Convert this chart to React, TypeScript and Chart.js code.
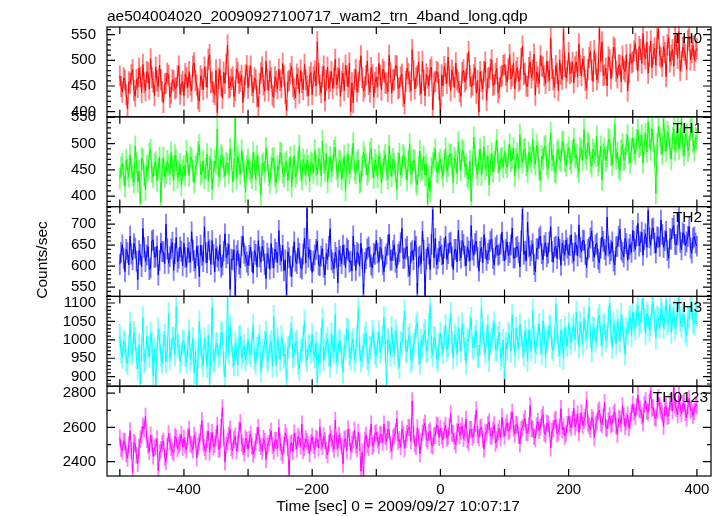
import { useEffect, useRef } from "react";
import { Chart, registerables } from "chart.js";

Chart.register(...registerables);

// Time bins (seconds from 2009/09/27 10:07:17)
const binStart = -500;
const binWidth = 2;

// Count rates (counts/sec)
const th0 = [
  470,449, 438,466, 461,433, 405,458, 455,472, 482,441, 430,463, 447,485, 468,437, 492,456, 441,478, 476,444, 503,467, 458,431, 487,460, 449,491, 462,439, 418,454, 455,475, 471,428, 436,462, 460,445, 447,470, 489,434, 452,459,
  431,474, 466,447, 478,452, 440,489, 495,461, 452,425, 420,470, 463,443, 487,468, 447,502, 511,456, 458,438, 433,481, 398,465, 482,450, 426,477, 455,492, 530,446, 449,463, 468,429, 441,484, 476,455, 459,471, 418,448, 472,490,
  446,470, 489,451, 437,466, 462,429, 410,455, 475,487, 452,440, 498,463, 441,479, 466,432, 428,468, 459,445, 483,461, 447,494, 470,436, 402,458, 461,474, 488,449, 444,427, 473,465, 436,481, 457,443, 492,462, 450,431, 468,476,
  433,468, 479,450, 536,474, 452,437, 468,489, 421,461, 487,445, 459,478, 445,466, 502,452, 466,484, 430,459, 475,441, 491,470, 448,495, 400,456, 417,463, 482,439, 457,480, 509,467, 440,448, 471,499, 453,438, 486,472, 428,457,
  467,448, 494,471, 442,483, 478,456, 455,439, 510,476, 436,462, 462,490, 489,445, 447,468, 473,430, 415,459, 485,474, 458,441, 521,480, 444,466, 470,497, 452,435, 498,461, 431,473, 466,450, 482,487, 404,456, 459,478, 476,443,
  396,472, 450,488, 474,455, 506,469, 441,481, 468,447, 495,462, 457,439, 430,476, 481,458, 463,493, 517,470, 448,452, 472,486, 436,461, 399,478, 459,444, 478,497, 422,465, 467,483, 501,451, 453,474, 484,437, 446,468, 470,490,
  492,471, 458,483, 511,464, 470,495, 444,478, 486,459, 463,504, 528,472, 475,450, 449,486, 497,466, 481,512, 432,477, 468,455, 509,489, 487,470, 455,498, 478,461, 543,484, 462,447, 490,475, 441,501, 473,463, 560,488, 466,479,
  515,474, 478,496, 456,487, 497,468, 532,490, 470,503, 488,461, 445,482, 506,517, 481,459, 519,493, 462,476, 562,498, 536,470, 472,485, 450,507, 501,464, 487,526, 523,479, 466,491, 491,458, 509,483, 478,511, 440,476, 512,495,
  497,518, 533,502, 480,527, 521,494, 552,511, 503,536, 475,508, 538,486, 512,524, 490,543, 561,509, 505,488, 527,515, 468,530, 544,497, 510,521, 489,548, 531,504, 556,480, 498,526, 520,512, 482,539, 547,501, 515,529, 500,517,
  523,
];
const th1 = [
  433,455, 462,441, 418,469, 451,437, 478,452, 440,426, 495,463, 427,448, 386,472, 470,439, 412,458, 448,481, 489,445, 436,460, 465,429, 452,474, 388,451, 474,436, 444,467, 459,442, 483,456, 430,478, 468,434, 447,461, 421,449,
  457,439, 486,462, 439,475, 471,448, 425,456, 462,484, 498,441, 445,467, 433,452, 480,429, 456,471, 413,446, 467,460, 528,437, 449,478, 474,455, 438,464, 461,443, 490,470, 427,451, 549,433, 476,462, 442,487, 465,447, 408,458,
  470,452, 446,433, 484,461, 431,476, 458,440, 402,459, 463,447, 492,468, 440,425, 455,471, 473,438, 425,457, 449,483, 481,444, 437,462, 466,430, 451,475, 418,453, 477,436, 444,466, 496,449, 432,470, 459,441, 469,458, 428,464,
  462,444, 487,459, 441,472, 470,438, 505,463, 448,481, 426,455, 475,446, 458,486, 493,451, 437,468, 466,432, 452,477, 411,460, 480,443, 456,471, 501,449, 443,465, 469,425, 428,457, 484,474, 461,440, 447,482, 490,454, 434,469,
  459,436, 477,462, 425,451, 468,479, 449,433, 496,458, 438,471, 462,445, 413,463, 481,440, 455,478, 472,452, 430,466, 499,441, 446,469, 467,427, 421,456, 486,448, 452,475, 440,461, 385,437, 409,454, 463,472, 489,446, 444,463,
  470,452, 438,466, 491,447, 457,480, 479,461, 426,473, 466,443, 503,470, 449,488, 485,456, 461,437, 432,467, 390,458, 512,478, 453,441, 468,490, 440,462, 494,451, 458,476, 421,459, 482,446, 465,484, 507,463, 447,471, 473,455,
  486,462, 455,478, 499,466, 472,491, 438,470, 481,453, 517,475, 463,488, 490,459, 446,483, 475,464, 508,473, 460,497, 484,451, 429,476, 470,493, 496,461, 452,481, 521,468, 478,447, 444,485, 489,470, 467,504, 502,466, 458,480,
  493,470, 462,486, 510,473, 479,455, 445,492, 488,469, 527,481, 470,502, 497,464, 456,489, 482,476, 514,458, 466,495, 431,480, 491,467, 475,509, 505,478, 459,493, 536,471, 483,454, 449,487, 499,468, 472,498, 516,481, 463,490,
  511,489, 480,507, 526,493, 497,516, 463,501, 519,484, 541,510, 488,528, 505,477, 405,498, 532,514, 499,480, 547,506, 485,523, 514,492, 470,511, 528,487, 503,530, 490,508, 548,495, 478,519, 517,486, 495,527, 534,503, 486,512,
  508,
];
const th2 = [
  604,633, 651,618, 587,640, 632,603, 672,629, 615,654, 643,612, 568,637, 628,599, 690,645, 611,627, 647,592, 596,660, 663,621, 622,648, 579,614, 655,635, 634,606, 700,641, 607,623, 641,657, 590,630, 668,610, 619,646, 636,601,
  655,621, 598,644, 633,609, 682,638, 613,595, 647,625, 575,650, 626,611, 694,632, 608,659, 639,604, 661,628, 586,642, 622,613, 651,597, 603,636, 677,620, 630,652, 545,617, 615,639, 530,626, 637,605, 596,648, 671,631, 624,610,
  602,626, 645,611, 583,637, 628,598, 661,622, 610,647, 637,604, 570,631, 619,593, 654,620, 596,641, 633,609, 685,627, 612,650, 589,615, 532,634, 620,600, 575,623, 658,612, 606,643, 631,596, 593,629, 667,607, 738,621, 640,614,
  585,612, 627,640, 660,603, 601,624, 642,597, 579,630, 616,647, 689,615, 608,594, 633,621, 560,638, 624,606, 650,627, 597,643, 638,610, 612,589, 672,626, 590,633, 629,600, 655,618, 534,609, 618,641, 646,622, 603,596, 631,628,
  662,631, 610,645, 640,603, 587,622, 629,650, 676,614, 615,637, 651,609, 596,628, 634,656, 690,618, 620,641, 647,599, 578,632, 637,615, 661,647, 535,621, 625,606, 683,638, 530,617, 645,629, 592,652, 735,620, 666,604, 618,635,
  648,627, 605,643, 671,616, 630,655, 657,622, 592,640, 640,610, 686,637, 619,661, 652,624, 601,646, 636,613, 697,639, 626,654, 660,621, 588,635, 645,608, 675,642, 614,630, 639,659, 665,618, 603,644, 650,626, 629,652, 681,637,
  612,640, 658,625, 633,651, 691,619, 620,644, 647,632, 598,660, 736,628, 636,613, 705,646, 625,637, 653,604, 587,642, 641,667, 672,630, 615,649, 656,622, 631,658, 694,635, 609,645, 648,618, 670,640, 602,655, 637,626, 662,643,
  627,649, 675,631, 612,656, 650,624, 698,645, 634,662, 661,628, 597,640, 645,667, 684,636, 621,651, 655,617, 608,643, 670,659, 640,626, 717,648, 629,637, 658,612, 603,646, 647,671, 688,639, 633,622, 666,654, 614,641, 652,633,
  685,659, 640,672, 702,648, 658,681, 626,663, 677,645, 733,668, 650,689, 691,655, 632,670, 668,647, 710,676, 645,661, 683,637, 619,666, 664,690, 697,652, 652,674, 725,657, 639,680, 676,649, 658,671, 694,643, 631,667, 670,655,
  648,
];
const th3 = [
  1012,968, 952,997, 991,944, 935,983, 1045,961, 968,1020, 1003,950, 921,986, 880,973, 1060,939, 947,1008, 979,955, 1018,992, 903,975, 878,964, 1030,999, 958,937, 993,1014, 940,970, 1071,948, 972,1003, 1006,959, 1090,982, 985,941, 960,995,
  996,958, 938,981, 1025,947, 963,1004, 910,969, 877,952, 1049,985, 951,929, 1003,976, 927,1012, 882,960, 1088,943, 944,990, 989,955, 961,1021, 1016,937, 899,978, 1117,964, 1037,996, 956,931, 992,973, 932,1007, 1010,950, 967,984, 945,962,
  1002,965, 958,991, 1040,948, 936,977, 985,1010, 915,956, 972,994, 1021,940, 949,983, 995,928, 1064,971, 930,1003, 978,946, 1008,987, 954,962, 889,979, 981,1015, 1033,952, 962,990, 997,935, 920,974, 969,1009, 1051,957, 944,982, 986,966,
  1015,970, 952,993, 884,961, 937,1002, 1056,945, 973,988, 1004,957, 928,1016, 981,966, 1069,939, 959,998, 996,953, 913,984, 975,1030, 1027,962, 948,991, 1002,944, 966,1011, 1085,972, 942,956, 987,1006, 1019,949, 934,980, 979,1023, 1008,964,
  955,991, 1022,967, 979,1009, 1061,974, 879,1001, 995,958, 1034,983, 963,1025, 1008,950, 926,994, 990,1017, 1079,970, 968,1004, 1014,942, 951,987, 998,1036, 1047,961, 935,999, 983,1013, 1026,968, 972,1041, 1094,980, 958,1006, 1003,952, 944,990,
  1018,985, 966,1007, 1040,972, 983,1029, 1072,994, 951,1013, 1005,960, 1033,998, 969,1044, 1011,976, 937,1002, 996,1035, 1058,981, 977,1009, 1024,956, 955,993, 1089,1017, 988,964, 1012,1038, 943,990, 1001,1021, 1046,973, 972,1006, 1020,948, 960,999,
  880,992, 974,1018, 1011,969, 1067,1003, 958,1031, 1002,977, 1041,1012, 981,959, 1023,1000, 943,1027, 997,971, 1080,1008, 966,990, 1014,1043, 989,962, 1052,1015, 954,996, 1009,1037, 1035,979, 972,1004, 1096,1020, 985,958, 1026,997, 949,1033, 1006,984,
  1045,1006, 992,1029, 1038,1001, 1075,1018, 981,1047, 1020,988, 1058,1024, 1003,1040, 1089,1009, 968,1033, 1031,995, 1011,1056, 1067,1013, 985,1037, 1043,998, 1008,1062, 1100,1021, 979,1044, 1024,990, 1052,1027, 996,1069, 1035,1005, 961,1030, 1017,1049, 1063,1012,
  1076,1045, 1030,1067, 1092,1038, 1048,1081, 1113,1055, 1017,1072, 1064,1026, 1041,1089, 1099,1050, 1005,1063, 1058,1034, 1085,1071, 1033,1059, 1108,1042, 1052,1096, 1020,1057, 1079,1031, 1046,1084, 1115,1053, 1037,1066, 1070,1023, 1012,1060, 1061,1088, 1094,1047, 1043,1074,
  1068,
];
const th0123 = [
  2540,2478, 2462,2521, 2515,2447, 2420,2498, 2580,2466, 2335,2512, 2503,2437, 2390,2485, 2530,2556, 2608,2592, 2665,2530, 2496,2459, 2555,2507, 2431,2480, 2488,2533, 2345,2451, 2470,2505, 2519,2428, 2402,2490, 2563,2517, 2484,2462, 2450,2548, 2537,2476, 2498,2511, 2560,2483,
  2536,2494, 2468,2545, 2589,2503, 2497,2468, 2552,2526, 2421,2491, 2515,2567, 2640,2512, 2483,2458, 2530,2579, 2455,2520, 2571,2486, 2502,2540, 2612,2473, 2476,2601, 2715,2538, 2398,2496, 2520,2555, 2590,2481, 2464,2527, 2549,2462, 2505,2583, 2628,2509, 2489,2451, 2537,2524,
  2474,2529, 2560,2492, 2443,2470, 2516,2553, 2600,2508, 2488,2461, 2535,2517, 2412,2489, 2507,2542, 2578,2496, 2461,2525, 2523,2478, 2599,2514, 2455,2438, 2497,2568, 2546,2482, 2325,2503, 2510,2459, 2567,2521, 2472,2547, 2531,2490, 2620,2466, 2485,2533, 2518,2497, 2446,2510,
  2548,2495, 2469,2537, 2530,2480, 2601,2515, 2487,2549, 2522,2466, 2440,2508, 2563,2532, 2505,2471, 2642,2519, 2478,2556, 2517,2490, 2385,2527, 2536,2462, 2590,2543, 2461,2501, 2528,2584, 2499,2476, 2573,2512, 2344,2458, 2320,2525, 2556,2497, 2483,2540, 2620,2488, 2504,2563,
  2572,2526, 2495,2561, 2556,2513, 2620,2547, 2517,2590, 2583,2502, 2462,2538, 2548,2575, 2651,2519, 2529,2486, 2590,2557, 2476,2531, 2564,2599, 2600,2522, 2755,2560, 2503,2489, 2598,2544, 2445,2516, 2567,2602, 2625,2535, 2521,2570, 2580,2498, 2490,2551, 2553,2614, 2609,2541,
  2595,2548, 2526,2583, 2612,2537, 2548,2604, 2680,2566, 2563,2519, 2497,2575, 2621,2552, 2578,2609, 2535,2570, 2649,2528, 2510,2589, 2587,2543, 2556,2622, 2703,2558, 2540,2596, 2602,2531, 2474,2567, 2571,2615, 2633,2550, 2549,2584, 2616,2507, 2527,2573, 2594,2538, 2660,2591,
  2548,2603, 2627,2576, 2584,2641, 2690,2597, 2561,2618, 2615,2553, 2503,2586, 2598,2632, 2652,2570, 2570,2611, 2728,2594, 2589,2547, 2536,2609, 2634,2582, 2601,2656, 2675,2568, 2557,2625, 2620,2590, 2480,2577, 2593,2638, 2647,2561, 2572,2604, 2710,2585, 2604,2549, 2566,2617,
  2664,2619, 2598,2646, 2712,2603, 2627,2680, 2571,2637, 2685,2611, 2640,2659, 2762,2625, 2609,2588, 2658,2643, 2540,2615, 2633,2692, 2701,2628, 2616,2661, 2745,2599, 2592,2640, 2668,2617, 2622,2677, 2690,2608, 2560,2653, 2649,2621, 2727,2666, 2605,2634, 2672,2597, 2638,2685,
  2735,2690, 2664,2721, 2790,2706, 2702,2668, 2628,2733, 2756,2695, 2689,2747, 2818,2712, 2716,2659, 2651,2704, 2773,2726, 2697,2681, 2605,2718, 2723,2662, 2670,2752, 2748,2697, 2834,2730, 2711,2675, 2786,2714, 2680,2739, 2742,2688, 2655,2724, 2768,2700, 2709,2671, 2692,2735,
  2725,
];

const bandNames = ["TH0", "TH1", "TH2", "TH3", "TH0123"];
const bandSeries = [th0, th1, th2, th3, th0123];
const bandErrors = [20, 20, 24, 30, 48];
const bandMin = [390, 380, 528, 874, 2316];
const bandMax = [565, 551, 742, 1118, 2841];
const bandLabelStep = [50, 50, 50, 50, 200];
const bandMinorStep = [10, 10, 10, 10, 100];
const lineColors = ["#ff0000", "#00ff00", "#0000ff", "#00ffff", "#ff00ff"];
const errColors = [
  "rgba(255,0,0,0.5)",
  "rgba(0,255,0,0.5)",
  "rgba(0,0,255,0.5)",
  "rgba(0,255,255,0.5)",
  "rgba(255,0,255,0.5)",
];

const plotTitle = "ae504004020_20090927100717_wam2_trn_4band_long.qdp";
const xTitle = "Time [sec] 0 = 2009/09/27 10:07:17";
const yTitle = "Counts/sec";
const xMin = -520;
const xMax = 422;
const xTickFirst = -500;
const xTickLast = 400;
const xTickStep = 100;
const xLabelStep = 200;

const FONT_FAMILY = '"Liberation Sans", Arial, Helvetica, sans-serif';

const framePlugin = {
  id: "qdpFrame",
  beforeDatasetDraw(chart: any, args: any) {
    const ys = chart.scales[args.meta.yAxisID];
    const ca = chart.chartArea;
    const ctx = chart.ctx;
    ctx.save();
    ctx.beginPath();
    ctx.rect(ca.left, ys.top, ca.right - ca.left, ys.bottom - ys.top);
    ctx.clip();
  },
  afterDatasetDraw(chart: any) {
    chart.ctx.restore();
  },
  afterDraw(chart: any) {
    const ctx = chart.ctx;
    const ca = chart.chartArea;
    const xs = chart.scales.x;
    ctx.save();
    ctx.strokeStyle = "#000";
    ctx.lineWidth = 1.2;
    bandNames.forEach((name, b) => {
      const s = chart.scales["y" + b];
      ctx.strokeRect(ca.left, s.top, ca.right - ca.left, s.bottom - s.top);
      ctx.beginPath();
      const minor = bandMinorStep[b];
      const major = bandLabelStep[b];
      for (let v = Math.ceil(bandMin[b] / minor) * minor; v <= bandMax[b]; v += minor) {
        const py = s.getPixelForValue(v);
        const len = v % major === 0 ? 8 : 4;
        ctx.moveTo(ca.left, py);
        ctx.lineTo(ca.left + len, py);
        ctx.moveTo(ca.right, py);
        ctx.lineTo(ca.right - len, py);
      }
      for (let t = xTickFirst; t <= xTickLast; t += xTickStep) {
        const px = xs.getPixelForValue(t);
        ctx.moveTo(px, s.top);
        ctx.lineTo(px, s.top + 7);
        ctx.moveTo(px, s.bottom);
        ctx.lineTo(px, s.bottom - 7);
      }
      ctx.stroke();
      ctx.fillStyle = "#000";
      ctx.font = "15.5px " + FONT_FAMILY;
      ctx.textAlign = "right";
      ctx.textBaseline = "alphabetic";
      const lx = b === bandNames.length - 1 ? 708 : 702;
      ctx.fillText(name, lx, s.top + 15.8);
    });
    ctx.fillStyle = "#000";
    ctx.font = "15.5px " + FONT_FAMILY;
    ctx.textAlign = "left";
    ctx.textBaseline = "alphabetic";
    ctx.fillText(plotTitle, 107, 20.5);
    ctx.textAlign = "center";
    ctx.fillText(xTitle, 398, 511);
    ctx.save();
    ctx.translate(46.5, 260);
    ctx.rotate(-Math.PI / 2);
    ctx.textBaseline = "alphabetic";
    ctx.fillText(yTitle, 0, 0);
    ctx.restore();
    ctx.restore();
  },
};

export default function App() {
  const ref = useRef<HTMLCanvasElement | null>(null);
  useEffect(() => {
    if (!ref.current) return;
    const datasets: any[] = [];
    bandSeries.forEach((series, b) => {
      const times = series.map((_, i) => binStart + i * binWidth);
      datasets.push({
        type: "line",
        data: series.map((v, i) => ({ x: times[i], y: v })),
        yAxisID: "y" + b,
        borderColor: lineColors[b],
        borderWidth: 1,
        borderJoinStyle: "round",
        pointRadius: 0,
        tension: 0,
        fill: false,
        order: 1,
      });
      datasets.push({
        type: "bar",
        data: series.map((v, i) => ({ x: times[i], y: [v - bandErrors[b], v + bandErrors[b]] })),
        yAxisID: "y" + b,
        backgroundColor: errColors[b],
        borderWidth: 0,
        barThickness: 1.2,
        grouped: false,
        order: 2,
      });
    });
    const scales: any = {
      x: {
        type: "linear",
        position: "bottom",
        min: xMin,
        max: xMax,
        offset: false,
        grid: { display: false, drawTicks: false },
        border: { display: false },
        ticks: {
          stepSize: xLabelStep,
          includeBounds: false,
          autoSkip: false,
          maxRotation: 0,
          padding: 5,
          color: "#000",
          font: { family: FONT_FAMILY, size: 15 },
          callback: (v: any) => String(v).replace("-", "\u2212"),
        },
        afterFit: (s: any) => {
          s.height = 40;
        },
      },
    };
    // stacked axes are laid out bottom-up, so define the lowest panel first
    for (let b = bandNames.length - 1; b >= 0; b--) {
      scales["y" + b] = {
        type: "linear",
        position: "left",
        stack: "panels",
        stackWeight: 1,
        min: bandMin[b],
        max: bandMax[b],
        grid: { display: false, drawTicks: false },
        border: { display: false },
        ticks: {
          stepSize: bandLabelStep[b],
          includeBounds: false,
          autoSkip: false,
          padding: 11,
          color: "#000",
          font: { family: FONT_FAMILY, size: 15 },
          callback: (v: any) => String(v),
        },
        afterFit: (s: any) => {
          s.width = 107;
        },
      };
    }
    const chart = new Chart(ref.current, {
      type: "line",
      data: { datasets },
      options: {
        responsive: false,
        animation: false,
        devicePixelRatio: 1,
        layout: { padding: { top: 27, right: 12, bottom: 0, left: 0 } },
        scales,
        plugins: {
          legend: { display: false },
          title: { display: false },
          tooltip: { enabled: false },
        },
      } as any,
      plugins: [framePlugin],
    } as any);
    return () => chart.destroy();
  }, []);
  return (
    <div style={{ position: "fixed", left: 0, top: 0, width: 723, height: 516, background: "#fff" }}>
      <canvas ref={ref} width={723} height={516} />
    </div>
  );
}
